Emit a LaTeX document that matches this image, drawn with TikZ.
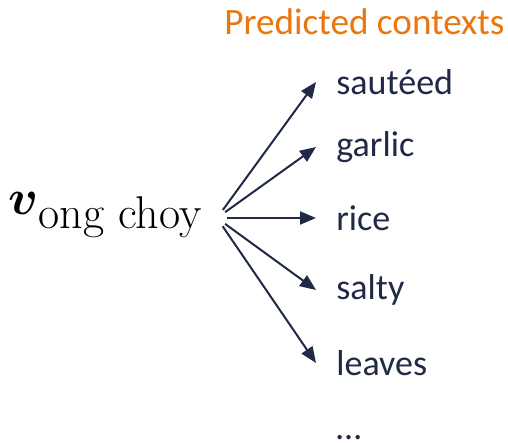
\documentclass[tikz,border=0pt]{standalone}
\usepackage{amsmath}
\usepackage{fontspec}
\usepackage{tikz}
\usetikzlibrary{positioning, arrows.meta}

\newfontfamily\ctxfont{Carlito}
\definecolor{navy}{RGB}{32,42,70}
\definecolor{ctxorange}{RGB}{234,118,14}

\begin{document}
\begin{tikzpicture}[
    x=0.5pt, y=-0.5pt,
    word/.style={anchor=west, inner xsep=10pt, inner ysep=0pt, text=navy, font=\ctxfont\fontsize{18}{21}\selectfont},
    arrow/.style={-{Triangle[length=8pt, width=6.5pt]}, line width=1pt, draw=navy, shorten <=5pt}
]
    \useasboundingbox (0,0) rectangle (508,443);

    % NODES
    \node[anchor=base west, inner sep=0pt] (vec) at (8,214) {\fontsize{24}{28}\selectfont $\boldsymbol{v}_{\text{\fontsize{23}{27}\selectfont ong choy}}$};
    \coordinate (hub) at (217,218);

    \node[anchor=base west, inner sep=0pt, text=ctxorange, font=\ctxfont\fontsize{18.6}{22}\selectfont] (title) at (224,35) {Predicted contexts};

    \node[word] (sauteed) at (316,82) {sautéed};
    \node[word] (garlic) at (316,147) {garlic};
    \node[word] (rice) at (316,218) {rice};
    \node[word] (salty) at (316,290) {salty};
    \node[word] (leaves) at (316,363) {leaves};
    \node[word, anchor=base west] (more) at (316,439) {…};

    % EDGES
    \draw[arrow] (hub) -- (sauteed.west);
    \draw[arrow] (hub) -- (garlic.west);
    \draw[arrow] (hub) -- (rice.west);
    \draw[arrow] (hub) -- (salty.west);
    \draw[arrow] (hub) -- (leaves.west);

\end{tikzpicture}
\end{document}
